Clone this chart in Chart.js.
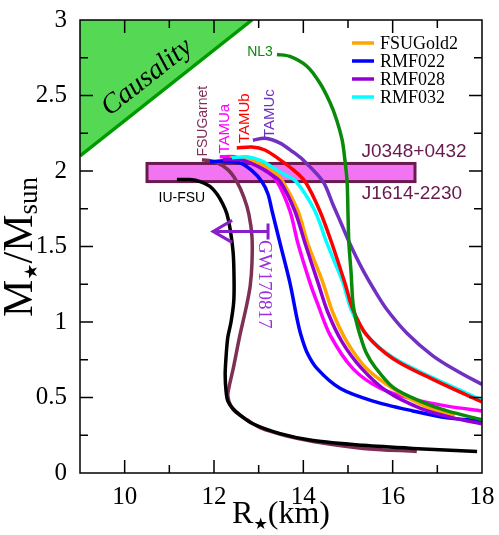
<!DOCTYPE html>
<html><head><meta charset="utf-8">
<script src="https://cdn.jsdelivr.net/npm/chart.js@4"></script>
<style>html,body{margin:0;padding:0;background:#fff;overflow:hidden}</style>
</head><body>
<canvas id="c" width="499" height="535"></canvas>
<script>
// ---- data (R in km, M in solar masses) ----
const IUFSU_R = [11.17,11.46,11.69,11.91,12.07,12.2,12.29,12.36,12.43,12.45,12.44,12.38,12.31,12.27,12.25,12.27,12.31,12.43,12.58,12.87,13.48,14.22,15.34,16.45,17.89];
const IUFSU_M = [1.943,1.943,1.93,1.898,1.846,1.78,1.715,1.617,1.454,1.259,1.128,0.998,0.9,0.77,0.652,0.541,0.476,0.424,0.385,0.326,0.261,0.215,0.183,0.163,0.143];
const GARNET_R = [11.73,12.02,12.31,12.51,12.67,12.78,12.85,12.85,12.81,12.72,12.58,12.43,12.34,12.31,12.38,12.51,12.74,13.03,13.59,14.22,15.34,16.54];
const GARNET_M = [2.074,2.061,2.009,1.93,1.826,1.715,1.565,1.389,1.239,1.096,0.913,0.691,0.574,0.509,0.443,0.398,0.352,0.3,0.248,0.209,0.163,0.143];
const TAMUA_R = [12.13,12.45,12.81,13.1,13.41,13.7,13.88,14.15,14.31,14.6,15.11,15.72,16.45,17.22,18];
const TAMUA_M = [2.094,2.094,2.061,2.022,1.93,1.735,1.52,1.259,1.128,0.913,0.691,0.561,0.489,0.443,0.411];
const TAMUB_R = [12.51,12.85,13.14,13.48,13.77,14.04,14.37,14.64,14.93,15.11,15.42,16.01,16.9,18];
const TAMUB_M = [2.152,2.159,2.139,2.074,2.009,1.93,1.735,1.52,1.259,1.083,0.913,0.757,0.62,0.47];
const TAMUC_R = [12.87,13.14,13.48,13.77,13.99,14.44,14.66,14.87,15.04,15.31,15.6,15.87,16.32,16.9,17.46,18];
const TAMUC_M = [2.204,2.217,2.185,2.126,2.074,1.93,1.78,1.637,1.52,1.357,1.207,1.083,0.926,0.776,0.672,0.587];
const GOLD2_R = [12.36,12.76,13.12,13.34,13.54,13.88,14.1,14.44,14.66,14.98,15.42,16.1,16.72,17.39];
const GOLD2_M = [2.087,2.081,2.035,1.996,1.93,1.735,1.52,1.259,1.063,0.867,0.691,0.541,0.443,0.378];
const RMF022_R = [11.91,12.25,12.58,12.85,13.07,13.21,13.3,13.48,13.7,13.86,13.94,14.08,14.31,14.82,15.56,16.45,17.22,18];
const RMF022_M = [2.061,2.067,2.054,2.002,1.93,1.846,1.735,1.52,1.259,1.02,0.92,0.8,0.691,0.561,0.476,0.411,0.365,0.346];
const RMF028_R = [12.2,12.6,13.01,13.25,13.48,13.81,14.04,14.33,14.55,14.87,15.31,15.87,16.61,17.35,18];
const RMF028_M = [2.074,2.074,2.026,1.983,1.93,1.735,1.52,1.259,1.063,0.867,0.691,0.541,0.43,0.365,0.326];
const RMF032_R = [12.4,12.74,13.07,13.32,13.59,13.84,14.26,14.53,14.89,15.07,15.4,15.98,16.88,18];
const RMF032_M = [2.087,2.094,2.067,2.022,1.976,1.93,1.735,1.52,1.259,1.083,0.92,0.77,0.633,0.483];
const NL3_R = [13.41,13.7,14.08,14.37,14.6,14.75,14.87,14.93,14.98,15.0,15.02,15.07,15.11,15.18,15.27,15.4,15.6,16.01,16.61,17.22,18];
const NL3_M = [2.772,2.759,2.694,2.583,2.452,2.335,2.204,2.074,1.93,1.715,1.52,1.324,1.128,1.011,0.913,0.802,0.704,0.567,0.476,0.411,0.352];
const CAUSAL_R = [9, 12.85];
const CAUSAL_M = [2.1, 3.0];
const PULSAR_R = [10.5, 16.5];     // J0348+0432 / J1614-2230 band
const PULSAR_M = [1.93, 2.05];
const GW_R = [11.98, 13.21];       // GW170817 radius bound at M=1.6
const GW_M = 1.6;
const X_TICKS = [10, 12, 14, 16, 18];
const Y_TICKS = [0, 0.5, 1, 1.5, 2, 2.5, 3];
const LEGEND_LABELS = ['FSUGold2', 'RMF022', 'RMF028', 'RMF032'];

const pts = (R, M) => R.map((r, i) => ({x: r, y: M[i]}));
const ctx0 = document.getElementById('c').getContext('2d');

const SERIF = '"Liberation Serif", "Times New Roman", serif';
const SANS = '"Liberation Sans", Arial, sans-serif';

function ds(label, R, M, color, w) {
  return {label, data: pts(R, M), borderColor: color, backgroundColor: color, borderWidth: w || 3.5,
    showLine: true, pointRadius: 0, tension: 0.3, fill: false, borderCapStyle: 'butt', borderJoinStyle: 'round'};
}
const datasets = [
  ds('IU-FSU', IUFSU_R, IUFSU_M, '#000000'),
  ds('NL3', NL3_R, NL3_M, '#0a8a0a'),
  ds('TAMUb', TAMUB_R, TAMUB_M, '#ff0000'),
  ds('TAMUc', TAMUC_R, TAMUC_M, '#7030c0'),
  ds('RMF032', RMF032_R, RMF032_M, '#00ffff'),
  ds('RMF028', RMF028_R, RMF028_M, '#9400d3'),
  ds('FSUGold2', GOLD2_R, GOLD2_M, '#ffa500'),
  ds('TAMUa', TAMUA_R, TAMUA_M, '#ff00ff'),
  ds('RMF022', RMF022_R, RMF022_M, '#0000ff'),
  ds('FSUGarnet', GARNET_R, GARNET_M, '#7e2f55'),
  {label: 'Causality', data: pts(CAUSAL_R, CAUSAL_M), borderColor: '#009a00', borderWidth: 3.5,
   backgroundColor: '#55d955', fill: 'end', showLine: true, pointRadius: 0, tension: 0}
];

function txt(ctx, s, x, y, font, color, rot) {
  ctx.save(); ctx.translate(x, y); if (rot) ctx.rotate(rot);
  ctx.font = font; ctx.fillStyle = color; ctx.textAlign = 'center'; ctx.textBaseline = 'middle';
  ctx.fillText(s, 0, 0); ctx.restore();
}

const annot = {
  id: 'annot',
  beforeDatasetsDraw(chart) {
    const {ctx, scales: {x, y}} = chart;
    const x0 = x.getPixelForValue(PULSAR_R[0]), x1 = x.getPixelForValue(PULSAR_R[1]);
    const y0 = y.getPixelForValue(PULSAR_M[1]), y1 = y.getPixelForValue(PULSAR_M[0]);
    ctx.save();
    ctx.fillStyle = '#f274f2'; ctx.fillRect(x0, y0, x1 - x0, y1 - y0);
    ctx.strokeStyle = '#6a1b4d'; ctx.lineWidth = 3; ctx.strokeRect(x0, y0, x1 - x0, y1 - y0);
    ctx.restore();
  },
  afterDatasetsDraw(chart) {
    const {ctx, chartArea: a, scales: {x, y}} = chart;
    ctx.save();
    ctx.strokeStyle = '#000'; ctx.lineWidth = 1.5;
    ctx.strokeRect(a.left, a.top, a.right - a.left, a.bottom - a.top);
    ctx.beginPath();
    for (let v = 10; v < 18; v++) {
      const px = x.getPixelForValue(v), L = (v % 2 === 0) ? 13 : 8;
      ctx.moveTo(px, a.bottom); ctx.lineTo(px, a.bottom - L);
      ctx.moveTo(px, a.top); ctx.lineTo(px, a.top + L);
    }
    for (let k = 1; k < 12; k++) {
      const v = k * 0.25, py = y.getPixelForValue(v), L = (k % 2 === 0) ? 13 : 8;
      ctx.moveTo(a.left, py); ctx.lineTo(a.left + L, py);
      ctx.moveTo(a.right, py); ctx.lineTo(a.right - L, py);
    }
    ctx.stroke();
    const P = (r, m) => [x.getPixelForValue(r), y.getPixelForValue(m)];
    let [cx, cy] = P(10.5, 2.62);
    const ang = Math.atan2(y.getPixelForValue(CAUSAL_M[1]) - y.getPixelForValue(CAUSAL_M[0]),
                           x.getPixelForValue(CAUSAL_R[1]) - x.getPixelForValue(CAUSAL_R[0]));
    txt(ctx, 'Causality', cx, cy, 'italic 28px ' + SERIF, '#000', ang);
    [cx, cy] = P(11.28, 1.82); txt(ctx, 'IU-FSU', cx, cy, '14px ' + SANS, '#000');
    [cx, cy] = P(11.75, 2.33); txt(ctx, 'FSUGarnet', cx, cy, '14px ' + SANS, '#7e2f55', -Math.PI / 2);
    [cx, cy] = P(12.25, 2.28); txt(ctx, 'TAMUa', cx, cy, '15px ' + SANS, '#ff00ff', -Math.PI / 2);
    [cx, cy] = P(12.69, 2.35); txt(ctx, 'TAMUb', cx, cy, '15px ' + SANS, '#ff0000', -Math.PI / 2);
    [cx, cy] = P(13.25, 2.38); txt(ctx, 'TAMUc', cx, cy, '15px ' + SANS, '#7030c0', -Math.PI / 2);
    [cx, cy] = P(13.03, 2.79); txt(ctx, 'NL3', cx, cy, '14px ' + SANS, '#0a8a0a');
    [cx, cy] = P(16.48, 2.13); txt(ctx, 'J0348+0432', cx, cy, '19px ' + SANS, '#661a4d');
    [cx, cy] = P(16.43, 1.85); txt(ctx, 'J1614-2230', cx, cy, '19px ' + SANS, '#661a4d');
    [cx, cy] = P(13.12, 1.25); txt(ctx, 'GW170817', cx, cy, '19px ' + SERIF, '#9b30e0', Math.PI / 2);
    const [ax0, ay] = P(GW_R[0], GW_M), [ax1] = P(GW_R[1], GW_M);
    ctx.strokeStyle = '#8a1ec8'; ctx.lineWidth = 3; ctx.lineCap = 'butt';
    ctx.beginPath();
    ctx.moveTo(ax1, ay); ctx.lineTo(ax0 + 2, ay);
    ctx.moveTo(ax1, ay - 8); ctx.lineTo(ax1, ay + 8);
    ctx.moveTo(ax0 + 19, ay - 11); ctx.lineTo(ax0, ay); ctx.lineTo(ax0 + 19, ay + 11);
    ctx.stroke();
    const dsets = chart.data.datasets;
    LEGEND_LABELS.forEach((lab, i) => {
      const d = dsets.find(s => s.label === lab);
      const ly = 43 + i * 18;
      ctx.strokeStyle = d.borderColor; ctx.lineWidth = 3.5;
      ctx.beginPath(); ctx.moveTo(352, ly); ctx.lineTo(374, ly); ctx.stroke();
      ctx.font = '18px ' + SERIF; ctx.fillStyle = '#000'; ctx.textAlign = 'left'; ctx.textBaseline = 'middle';
      ctx.fillText(lab, 380, ly + 1);
    });
    ctx.restore();
    ctx.save();
    ctx.fillStyle = '#000'; ctx.textBaseline = 'alphabetic'; ctx.textAlign = 'left';
    const parts = [['R', '32px ' + SERIF, 0], ['\u2605', '16px "DejaVu Sans"', 6], ['(km)', '32px ' + SERIF, 0]];
    let w = 0; parts.forEach(p => { ctx.font = p[1]; w += ctx.measureText(p[0]).width; });
    let sx = 281 - w / 2;
    parts.forEach(p => { ctx.font = p[1]; ctx.fillText(p[0], sx, 523 + p[2]); sx += ctx.measureText(p[0]).width; });
    ctx.restore();
    ctx.save();
    ctx.fillStyle = '#000'; ctx.textBaseline = 'alphabetic'; ctx.textAlign = 'left';
    ctx.translate(32, 247); ctx.rotate(-Math.PI / 2);
    const yp = [['M', '42px ' + SERIF, 0], ['\u2605', '18px "DejaVu Sans"', 5], ['/M', '42px ' + SERIF, 0], ['sun', '27px ' + SERIF, 5]];
    w = 0; yp.forEach(p => { ctx.font = p[1]; w += ctx.measureText(p[0]).width; });
    sx = -w / 2;
    yp.forEach(p => { ctx.font = p[1]; ctx.fillText(p[0], sx, p[2]); sx += ctx.measureText(p[0]).width; });
    ctx.restore();
  }
};

new Chart(ctx0, {
  type: 'scatter',
  data: {datasets},
  options: {
    responsive: false, animation: false, devicePixelRatio: 1,
    layout: {padding: {top: 13, right: 17, left: 0, bottom: 0}},
    plugins: {legend: {display: false}, tooltip: {enabled: false}},
    scales: {
      x: {type: 'linear', min: 9, max: 18,
          grid: {display: false}, border: {display: false},
          ticks: {stepSize: 1, autoSkip: false, maxRotation: 0, padding: 1, color: '#000',
                  font: {family: SERIF, size: 25},
                  callback: v => X_TICKS.includes(v) ? String(v) : ''},
          afterFit: s => { s.height = 62; }},
      y: {type: 'linear', min: 0, max: 3,
          grid: {display: false}, border: {display: false},
          ticks: {stepSize: 0.5, autoSkip: false, padding: 5, color: '#000',
                  font: {family: SERIF, size: 25},
                  callback: v => Y_TICKS.includes(v) ? String(v) : ''},
          afterFit: s => { s.width = 80; }}
    }
  },
  plugins: [annot]
});
</script>
</body></html>
